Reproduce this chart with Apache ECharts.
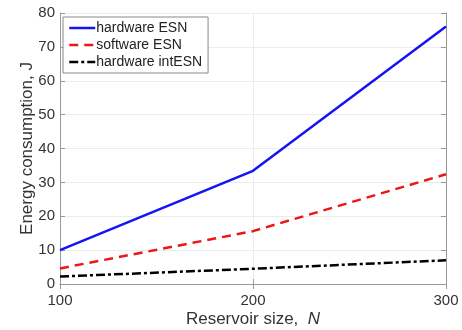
<!DOCTYPE html>
<html><head><meta charset="utf-8">
<script src="https://cdn.jsdelivr.net/npm/echarts@6/dist/echarts.min.js"></script>
<style>html,body{margin:0;padding:0;background:#fff}#c{width:462px;height:330px}</style>
</head><body><div id="c"></div>
<script>
const xValues = [100, 200, 300];
const hardwareESN = [10, 33.4, 76];
const softwareESN = [4.6, 15.6, 32.4];
const hardwareIntESN = [2.2, 4.5, 7.0];
const seriesNames = ['hardware ESN', 'software ESN', 'hardware intESN'];

const pairs = arr => xValues.map((x, i) => [x, arr[i]]);
const chart = echarts.init(document.getElementById('c'), null, {renderer: 'canvas'});
const font = 'Liberation Sans, Arial, sans-serif';
const txt = '#333';
const dashes = ['solid', [9, 6], [9, 3, 3, 3]];
const colors = ['#1414f5', '#ee1515', '#000000'];
const axisCommon = {
  axisLine: {show: true, lineStyle: {color: '#999', width: 1}},
  axisTick: {show: true, inside: true, length: 5, lineStyle: {color: '#999'}},
};
chart.setOption({
  animation: false,
  grid: {left: 60, right: 16, top: 13, bottom: 46, containLabel: false, outerBoundsMode: 'none'},
  legend: {
    left: 63, top: 17, orient: 'vertical',
    backgroundColor: '#fff', borderColor: '#888', borderWidth: 1,
    padding: [4, 6, 4, 5], itemGap: 3, itemWidth: 26, itemHeight: 14,
    itemStyle: {opacity: 0},
    textStyle: {fontFamily: font, fontSize: 14, color: '#222', padding: [0, 0, 0, -4]},
    data: seriesNames.map((n, i) => ({name: n, itemStyle: {opacity: 0}, lineStyle: {type: dashes[i], width: 2.5, color: colors[i]}}))
  },
  xAxis: [{
    type: 'value', min: 100, max: 300, interval: 100,
    name: '{a|Reservoir size,  }{b|N}', nameLocation: 'middle', nameGap: 27, nameMoveOverlap: false,
    nameTextStyle: {rich: {a: {fontFamily: font, fontSize: 17, color: txt}, b: {fontFamily: font, fontSize: 17, color: txt, fontStyle: 'italic'}}},
    axisLabel: {fontFamily: font, fontSize: 15, color: txt, margin: 9},
    splitLine: {show: true, lineStyle: {color: '#ececec'}},
    ...axisCommon
  }, {
    type: 'value', position: 'top', min: 100, max: 300, interval: 100,
    axisLabel: {show: false}, splitLine: {show: false}, ...axisCommon
  }],
  yAxis: [{
    type: 'value', min: 0, max: 80, interval: 10,
    name: 'Energy consumption, J', nameLocation: 'middle', nameGap: 24, nameRotate: 90, nameMoveOverlap: false,
    nameTextStyle: {fontFamily: font, fontSize: 17, color: txt},
    axisLabel: {fontFamily: font, fontSize: 15, color: txt, margin: 5},
    splitLine: {show: true, lineStyle: {color: '#ececec'}},
    ...axisCommon
  }, {
    type: 'value', position: 'right', min: 0, max: 80, interval: 10,
    axisLabel: {show: false}, splitLine: {show: false}, ...axisCommon
  }],
  series: seriesNames.map((n, i) => ({
    name: n, type: 'line', data: pairs([hardwareESN, softwareESN, hardwareIntESN][i]), symbol: 'none',
    lineStyle: {color: colors[i], width: 2.5, type: dashes[i]}, itemStyle: {color: colors[i]}
  }))
});
</script></body></html>
